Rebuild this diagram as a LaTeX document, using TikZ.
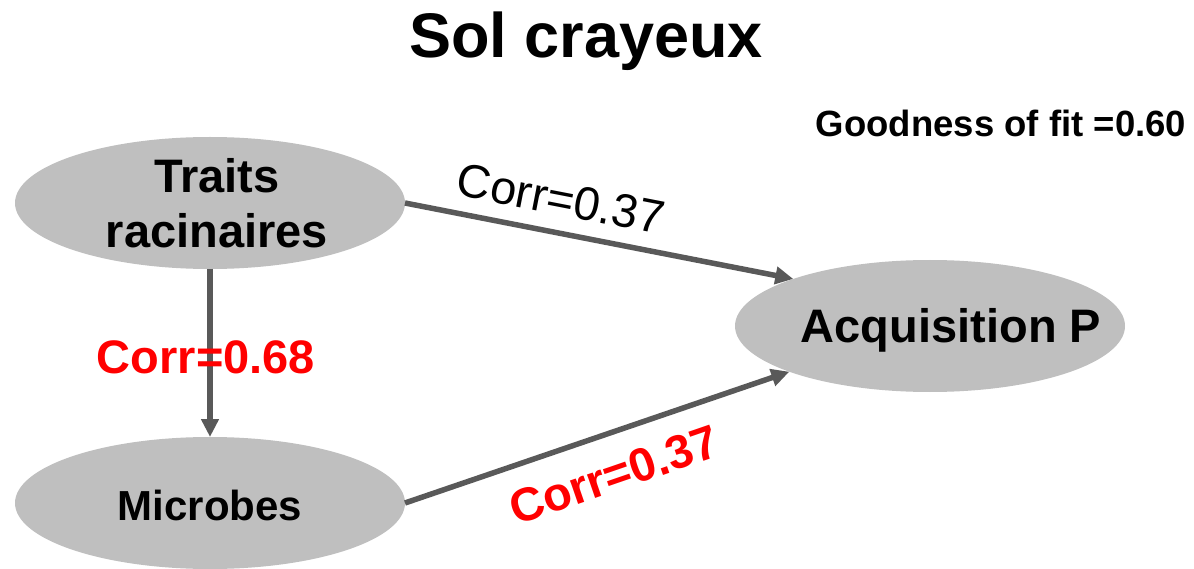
\documentclass[tikz,border=0pt]{standalone}
\usepackage{fontspec}
\setmainfont{Liberation Sans}
\usetikzlibrary{shapes.geometric,arrows.meta}
\definecolor{blobgray}{RGB}{191,191,191}
\definecolor{linkgray}{RGB}{89,89,89}
\definecolor{corrred}{RGB}{255,0,0}
\newcommand{\fsz}[1]{\fontsize{#1}{#1}\selectfont}
\tikzset{
  blob/.style={ellipse, fill=blobgray, draw=none, inner sep=0pt, outer sep=0pt,
    minimum width=390pt, minimum height=132pt},
  blobtext/.style={inner sep=0pt, anchor=base, font=\bfseries\fsz{47}},
  link/.style={draw=linkgray, line width=5.5pt,
    -{Triangle[length=18pt,width=17pt]}},
  corrlabel/.style={inner sep=0pt, text=corrred, font=\bfseries\fsz{47}}
}
\begin{document}
\begin{tikzpicture}[x=1pt,y=-1pt]
\useasboundingbox (0,0) rectangle (1194,569);

% title and fit statistic
\node[inner sep=0pt, anchor=base, font=\bfseries\fsz{63}] (title) at (586,58) {Sol crayeux};
\node[inner sep=0pt, anchor=base, font=\bfseries\fsz{36.5}] (fit) at (1001,137) {Goodness of fit =0.60};

% latent variables
\node[blob] (tr) at (210,203) {};
\node[blob] (mic) at (210,503) {};
\node[blob] (acq) at (930,326) {};

\node[blobtext] (trA) at (217,193) {Traits};
\node[blobtext] (trB) at (217,248) {racinaires};
\node[blobtext, font=\bfseries\fsz{42}] (micT) at (210,520) {Microbes};
\node[blobtext] (acqT) at (951,342) {Acquisition P};

% paths between variables
\draw[link] (tr.south) -- (mic.north);
\draw[link] (tr.east) -- (acq.161);
\draw[link] (mic.east) -- (acq.198.5);

% path coefficients
\node[inner sep=0pt, rotate=-11, font=\fsz{47}] (c1) at (561,199) {Corr=0.37};
\node[corrlabel, anchor=base] (c2) at (206,373) {Corr=0.68};
\node[corrlabel, rotate=19] (c3) at (614,475) {Corr=0.37};
\end{tikzpicture}
\end{document}
